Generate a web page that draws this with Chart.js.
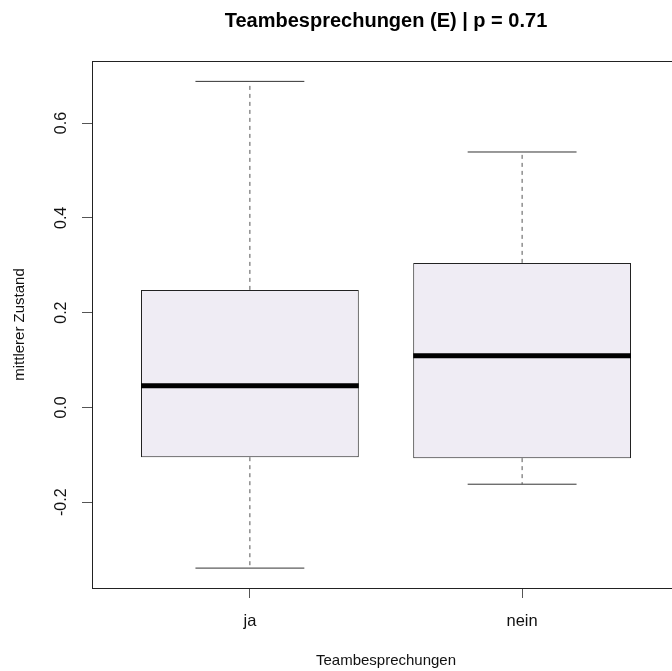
<!DOCTYPE html>
<html><head><meta charset="utf-8">
<script src="https://cdn.jsdelivr.net/npm/chart.js@4/dist/chart.umd.min.js"></script>
<style>html,body{margin:0;padding:0;overflow:hidden;background:#fff}#wrap{width:690px;height:671px}</style>
</head><body><div id="wrap"><canvas id="c" width="690" height="671"></canvas></div>
<script>
const categories = ['ja', 'nein'];
const lowerWhisker = [-0.339, -0.162];
const q1 = [-0.105, -0.107];
const median = [0.046, 0.109];
const q3 = [0.248, 0.305];
const upperWhisker = [0.688, 0.539];
const yTicks = [-0.2, 0.0, 0.2, 0.4, 0.6];
const titleText = 'Teambesprechungen (E) | p = 0.71';
const xTitle = 'Teambesprechungen';
const yTitle = 'mittlerer Zustand';

const BOXW = 0.8, CAPW = 0.4;
const FONT = '"Liberation Sans", Arial, sans-serif';
const pos = categories.map((_, i) => i + 1);

const datasets = [{
  type: 'bar', order: 2,
  data: pos.map((p, i) => ({x: p, y: [q1[i], q3[i]]})),
  backgroundColor: '#EFECF4', borderColor: '#222', borderWidth: 1, borderSkipped: false,
  barPercentage: BOXW, categoryPercentage: 1.0
}];
pos.forEach((p, i) => {
  const line = (pts, extra) => Object.assign({type: 'line', order: 1, data: pts, borderColor: '#333', borderWidth: 1, pointRadius: 0, fill: false}, extra);
  datasets.push(line([{x: p, y: q3[i]}, {x: p, y: upperWhisker[i]}], {borderDash: [4, 4], borderColor: '#555'}));
  datasets.push(line([{x: p, y: q1[i]}, {x: p, y: lowerWhisker[i]}], {borderDash: [4, 4], borderColor: '#555'}));
  datasets.push(line([{x: p - CAPW / 2, y: upperWhisker[i]}, {x: p + CAPW / 2, y: upperWhisker[i]}], {}));
  datasets.push(line([{x: p - CAPW / 2, y: lowerWhisker[i]}, {x: p + CAPW / 2, y: lowerWhisker[i]}], {}));
  datasets.push(line([{x: p - BOXW / 2, y: median[i]}, {x: p + BOXW / 2, y: median[i]}], {borderWidth: 5, borderColor: '#000', borderCapStyle: 'butt'}));
});

const deco = {
  id: 'deco',
  afterDraw(chart) {
    const ctx = chart.ctx, a = chart.chartArea, ys = chart.scales.y;
    ctx.save();
    ctx.strokeStyle = '#222'; ctx.lineWidth = 1;
    ctx.strokeRect(Math.round(a.left) + 0.5, Math.round(a.top) + 0.5, a.right - a.left, a.bottom - a.top);
    ctx.fillStyle = '#111';
    ctx.textAlign = 'center'; ctx.textBaseline = 'middle';
    ctx.font = '16px ' + FONT;
    yTicks.forEach(v => {
      ctx.save(); ctx.translate(62, ys.getPixelForValue(v)); ctx.rotate(-Math.PI / 2);
      ctx.fillText(v.toFixed(1), 0, 0); ctx.restore();
    });
    ctx.font = '15px ' + FONT;
    ctx.save(); ctx.translate(20, (a.top + a.bottom) / 2); ctx.rotate(-Math.PI / 2);
    ctx.fillText(yTitle, 0, 0); ctx.restore();
    ctx.textBaseline = 'alphabetic';
    ctx.fillText(xTitle, (a.left + a.right) / 2, 665);
    ctx.font = 'bold 20px ' + FONT;
    ctx.fillStyle = '#000';
    ctx.fillText(titleText, (a.left + a.right) / 2, 27);
    ctx.restore();
  }
};

new Chart(document.getElementById('c'), {
  data: {datasets},
  options: {
    responsive: false, animation: false,
    layout: {padding: {top: 61, right: 10, left: 0, bottom: 0}},
    plugins: {legend: {display: false}, tooltip: {enabled: false}, title: {display: false}},
    scales: {
      x: {
        type: 'linear', min: 0.42, max: 2.58, offset: false,
        afterBuildTicks: s => { s.ticks = pos.map(v => ({value: v})); },
        afterFit: s => { s.height = 83; },
        ticks: {callback: v => categories[v - 1] || '', font: {size: 16.5, family: FONT}, color: '#111', padding: 14, maxRotation: 0},
        grid: {offset: false, drawOnChartArea: false, drawTicks: true, tickLength: 10, tickColor: '#555'},
        border: {display: true, color: '#222'}
      },
      y: {
        type: 'linear', min: -0.381, max: 0.731,
        afterBuildTicks: s => { s.ticks = yTicks.map(v => ({value: v})); },
        afterFit: s => { s.width = 92; },
        ticks: {display: false},
        grid: {drawOnChartArea: false, drawTicks: true, tickLength: 10, tickColor: '#555'},
        border: {display: true, color: '#222'}
      }
    }
  },
  plugins: [deco]
});
</script></body></html>
